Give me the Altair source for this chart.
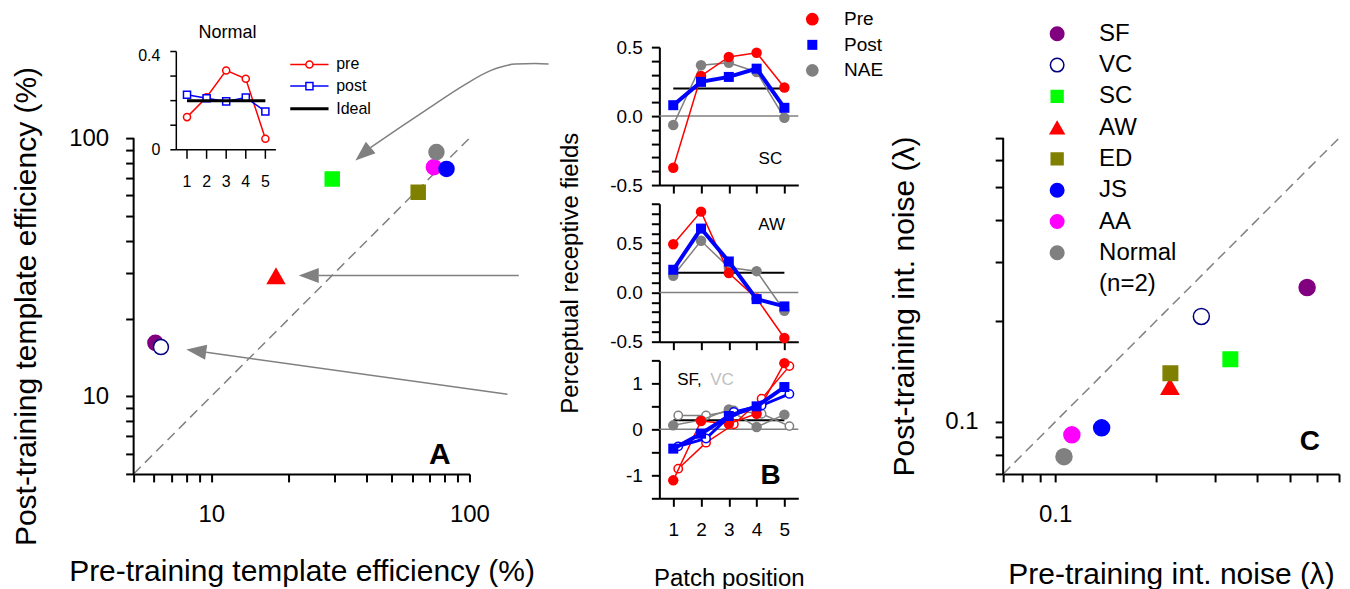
import altair as alt
import pandas as pd

FONT = "Liberation Sans"
GRAY = "#808080"
RED = "#ff0000"
BLUE = "#0000ff"

# ---------------- values ----------------
subjects   = ["SF", "VC", "SC", "AW", "ED", "JS", "AA", "Normal"]
sub_color  = ["#800080", "#000080", "#00ff00", "#ff0000", "#808000", "#0000ff", "#ff00ff", "#808080"]
sub_fill   = ["#800080", "#ffffff", "#00ff00", "#ff0000", "#808000", "#0000ff", "#ff00ff", "#808080"]
sub_shape  = ["circle", "circle", "square", "triangle-up", "square", "circle", "circle", "circle"]
draw_rank  = [0, 1, 2, 3, 4, 6, 5, 7]

eff_pre    = [6.07, 6.38, 29.4, 17.8, 63.3, 81.5, 72.8, 74.5]
eff_post   = [16.1, 15.5, 69.5, 29.2, 61.7, 76.0, 77.2, 88.3]
noise_pre  = [0.5625, 0.2724, 0.3323, 0.2196, 0.2203, 0.1375, 0.1121, 0.1062]
noise_post = [0.2513, 0.2060, 0.1537, 0.1272, 0.1396, 0.0960, 0.0915, 0.0788]

eff_ticks   = [5, 6, 7, 8, 9, 10, 20, 30, 40, 50, 60, 70, 80, 90, 100]
noise_ticks = [0.07, 0.08, 0.09, 0.1, 0.2, 0.3, 0.4, 0.5, 0.6, 0.7]

# inset of panel A (Normal observers)
inset_pos    = [1, 2, 3, 4, 5]
inset_pre    = [0.133, 0.214, 0.323, 0.289, 0.045]
inset_post   = [0.224, 0.210, 0.197, 0.213, 0.156]
inset_yticks = [0.0, 0.1, 0.2, 0.3, 0.4]
ideal_weight = 0.2

# panel B (perceptual receptive fields)
patch   = [1, 2, 3, 4, 5]
sc_pre  = [-0.374, 0.291, 0.429, 0.459, 0.207]
sc_post = [0.079, 0.248, 0.284, 0.344, 0.060]
sc_nae  = [-0.065, 0.369, 0.387, 0.320, -0.012]
aw_pre  = [0.489, 0.820, 0.196, -0.061, -0.463]
aw_post = [0.230, 0.648, 0.314, -0.068, -0.142]
aw_nae  = [0.169, 0.524, 0.253, 0.216, -0.186]
sf_pre  = [-1.11, 0.18, 0.12, 0.34, 1.44]
sf_post = [-0.42, -0.095, 0.29, 0.50, 0.92]
sf_nae  = [0.087, 0.20, 0.43, 0.05, 0.32]
vc_pre  = [-0.856, -0.29, 0.11, 0.665, 1.375]
vc_post = [-0.37, -0.20, 0.376, 0.52, 0.77]
vc_nae  = [0.30, 0.30, 0.41, 0.34, 0.07]

# annotation arrows in panel A (panel-A data coordinates)
arrow_curve_x = [41.34, 54.04, 72.53, 93.97, 120.6, 150.8, 180.3, 202.5]
arrow_curve_y = [91.88, 110.3, 134.3, 159.1, 182.7, 193.6, 194.5, 193.6]
arrow_mid_x   = [26.07, 155.3]
arrow_mid_y   = [29.37, 29.37]
arrow_low_x   = [9.55, 140.4]
arrow_low_y   = [14.80, 10.18]
head_x        = [38.70, 23.84, 8.74]
head_y        = [86.83, 29.37, 14.99]
head_angle    = [229.8, 270.0, 277.9]

# ---------------- styles ----------------
SIZE_A = {"circle": 225, "square": 196, "triangle-up": 282}
SIZE_C = {"circle": 256, "square": 210, "triangle-up": 296}
SIZE_LEG = {"circle": 182, "square": 140, "triangle-up": 190}
ARROW_HEAD = "M0,-1L0.75,1L-0.75,1Z"
AXC = dict(grid=False, labelFlush=False, labelOverlap=False)


def subj_frame(xs, ys, sizes):
    df = pd.DataFrame({"subject": subjects, "x": xs, "y": ys, "stroke": sub_color,
                       "fill": sub_fill, "shape": sub_shape, "rank": draw_rank})
    df["size"] = df["shape"].map(sizes)
    return df.sort_values("rank")


# ================= Panel A =================
A_W, A_H = 336, 427
A_TOP = 100 * 10 ** (91 / 258)
xa = alt.Scale(type="log", domain=[5, 100], nice=False)
ya = alt.Scale(type="log", domain=[5, A_TOP], nice=False)
axA_x = alt.Axis(values=eff_ticks, tickSize=8, labelFontSize=24, labelPadding=21,
                 labelExpr="datum.value == 10 ? '10' : datum.value == 100 ? '100' : ''",
                 title="Pre-training template efficiency (%)", titleFontSize=30, titlePadding=30, **AXC)
axA_y = alt.Axis(values=eff_ticks, tickSize=8, labelFontSize=24, labelPadding=17, domain=False,
                 labelExpr="datum.value == 10 ? '10' : datum.value == 100 ? '100' : ''",
                 title="Post-training template efficiency (%)", titleFontSize=30, titlePadding=27.6,
                 titleY=259, **AXC)


def XA(f):
    return alt.X(f, type="quantitative", scale=xa, axis=axA_x)


def YA(f):
    return alt.Y(f, type="quantitative", scale=ya, axis=axA_y)


dA = subj_frame(eff_pre, eff_post, SIZE_A)
a_pts = alt.Chart(dA).mark_point(filled=True, opacity=1, strokeWidth=1.5).encode(
    x=XA("x"), y=YA("y"),
    fill=alt.Fill("fill:N", scale=None), stroke=alt.Stroke("stroke:N", scale=None),
    shape=alt.Shape("shape:N", scale=None), size=alt.Size("size:Q", scale=None))

a_dash = alt.Chart(pd.DataFrame({"x": [5, 100], "y": [5, 100]})).mark_line(
    color=GRAY, strokeDash=[10, 6], strokeWidth=1.5).encode(x=XA("x"), y=YA("y"))

a_rule = alt.Chart(pd.DataFrame({"x": [5], "y": [5], "y2": [100]})).mark_rule(
    color="black", strokeWidth=2).encode(x=XA("x"), y=YA("y"), y2=alt.Y2("y2"))

arr_rows = []
for name, xs, ys in [("curve", arrow_curve_x, arrow_curve_y), ("mid", arrow_mid_x, arrow_mid_y),
                     ("low", arrow_low_x, arrow_low_y)]:
    for i, (xv, yv) in enumerate(zip(xs, ys)):
        arr_rows.append({"arrow": name, "i": i, "x": xv, "y": yv})
a_arrows = alt.Chart(pd.DataFrame(arr_rows)).mark_line(
    color=GRAY, strokeWidth=1.5, interpolate="monotone").encode(
    x=XA("x"), y=YA("y"), detail="arrow:N", order="i:Q")
a_heads = alt.Chart(pd.DataFrame({"x": head_x, "y": head_y, "a": head_angle})).mark_point(
    shape=ARROW_HEAD, filled=True, color=GRAY, size=400, opacity=1).encode(
    x=XA("x"), y=YA("y"), angle=alt.Angle("a:Q", scale=None))

a_label = alt.Chart(pd.DataFrame({"x": [76.75], "y": [5.482], "t": ["A"]})).mark_text(
    fontSize=30, fontWeight="bold", align="center", baseline="alphabetic", color="black").encode(
    x=XA("x"), y=YA("y"), text="t:N")

A_main = alt.layer(a_dash, a_arrows, a_heads, a_rule, a_pts, a_label)

# ---- inset (own scales, placed inside panel A) ----
xi = alt.Scale(domain=[-1.7245, 15.418], nice=False, zero=False)
yi = alt.Scale(domain=[-1.31937, 0.41782], nice=False, zero=False)


def XI(f):
    return alt.X(f, type="quantitative", scale=xi, axis=None)


def YI(f):
    return alt.Y(f, type="quantitative", scale=yi, axis=None)


seg = [{"x": 0.454, "y": 0.0, "x2": 0.454, "y2": 0.4}, {"x": 0.454, "y": 0.0, "x2": 5.54, "y2": 0.0}]
seg += [{"x": 0.148, "y": v, "x2": 0.454, "y2": v} for v in inset_yticks]
seg += [{"x": p, "y": 0.0, "x2": p, "y2": -0.0366} for p in inset_pos]
i_frame = alt.Chart(pd.DataFrame(seg)).mark_rule(color="black", strokeWidth=1.5).encode(
    x=XI("x"), y=YI("y"), x2=alt.X2("x2"), y2=alt.Y2("y2"))

i_layers = [i_frame]
for vals, col, shp in [(inset_pre, RED, "circle"), (inset_post, BLUE, "square")]:
    d = pd.DataFrame({"p": inset_pos, "v": vals})
    i_layers.append(alt.Chart(d).mark_line(color=col, strokeWidth=1.5).encode(x=XI("p"), y=YI("v")))
    i_layers.append(alt.Chart(d).mark_point(shape=shp, filled=True, fill="white", stroke=col,
                                            strokeWidth=1.5, size=50, opacity=1).encode(x=XI("p"), y=YI("v")))
i_layers.append(alt.Chart(pd.DataFrame({"x": [1], "x2": [5], "y": [ideal_weight]})).mark_rule(
    color="black", strokeWidth=3).encode(x=XI("x"), x2=alt.X2("x2"), y=YI("y")))
i_layers.append(alt.Chart(pd.DataFrame({"x": [-0.36, -0.36], "y": [0.3596, -0.0228], "t": ["0.4", "0"]}))
                .mark_text(fontSize=16, align="right", baseline="alphabetic", color="black")
                .encode(x=XI("x"), y=YI("y"), text="t:N"))
i_layers.append(alt.Chart(pd.DataFrame({"x": inset_pos, "y": [-0.1518] * 5, "t": [str(p) for p in inset_pos]}))
                .mark_text(fontSize=16, align="center", baseline="alphabetic", color="black")
                .encode(x=XI("x"), y=YI("y"), text="t:N"))
i_layers.append(alt.Chart(pd.DataFrame({"x": [3.071], "y": [0.4544], "t": ["Normal"]}))
                .mark_text(fontSize=18, align="center", baseline="alphabetic", color="black")
                .encode(x=XI("x"), y=YI("y"), text="t:N"))
leg_v = [0.3474, 0.2592, 0.1668]
i_layers.append(alt.Chart(pd.DataFrame({"x": [6.27] * 3, "x2": [8.224] * 3, "y": leg_v,
                                        "c": [RED, BLUE, "black"], "w": [1.5, 1.5, 3]}))
                .mark_rule().encode(x=XI("x"), x2=alt.X2("x2"), y=YI("y"),
                                    stroke=alt.Stroke("c:N", scale=None),
                                    strokeWidth=alt.StrokeWidth("w:Q", scale=None)))
for vy, col, shp in [(leg_v[0], RED, "circle"), (leg_v[1], BLUE, "square")]:
    i_layers.append(alt.Chart(pd.DataFrame({"x": [7.25], "y": [vy]})).mark_point(
        shape=shp, filled=True, fill="white", stroke=col, strokeWidth=1.5, size=50, opacity=1)
        .encode(x=XI("x"), y=YI("y")))
i_layers.append(alt.Chart(pd.DataFrame({"x": [8.617] * 3, "y": leg_v, "t": ["pre", "post", "Ideal"]}))
                .mark_text(fontSize=16, align="left", baseline="middle", color="black")
                .encode(x=XI("x"), y=YI("y"), text="t:N"))
A_inset = alt.layer(*i_layers)

A = alt.layer(A_main, A_inset).resolve_scale(x="independent", y="independent").properties(
    width=A_W, height=A_H)

# ================= Panel B =================
B_W, B_H = 139, 138
xb = alt.Scale(domain=[0.5, 5.5], nice=False, zero=False)
LAB_HALF = "datum.value == -0.5 ? '-0.5' : datum.value == 0 ? '0.0' : datum.value == 0.5 ? '0.5' : ''"
LAB_ONE = "datum.value == -1 ? '-1' : datum.value == 0 ? '0' : datum.value == 1 ? '1' : ''"


def b_panel(ydom, yticks, ylab, x_labels, y_title, series, texts, extra=None):
    yb = alt.Scale(domain=ydom, nice=False, zero=False)
    if x_labels:
        xaxis = alt.Axis(values=patch, tickSize=8, labelFontSize=19, labelPadding=14,
                         title="Patch position", titleFontSize=24, titlePadding=27, **AXC)
    else:
        xaxis = alt.Axis(values=patch, labels=False, tickSize=8, title=None, **AXC)
    if y_title:
        yaxis = alt.Axis(values=yticks, labelExpr=ylab, tickSize=8, labelFontSize=19, labelPadding=9,
                         title=y_title, titleFontSize=24, titlePadding=27, **AXC)
    else:
        yaxis = alt.Axis(values=yticks, labelExpr=ylab, tickSize=8, labelFontSize=19, labelPadding=9,
                         title=None, **AXC)

    def XB(f):
        return alt.X(f, type="quantitative", scale=xb, axis=xaxis)

    def YB(f):
        return alt.Y(f, type="quantitative", scale=yb, axis=yaxis)

    layers = [alt.Chart(pd.DataFrame({"x": [0.5], "x2": [5.5], "y": [0.0]})).mark_rule(
        color=GRAY, strokeWidth=1.5).encode(x=XB("x"), x2=alt.X2("x2"), y=YB("y"))]
    layers.append(alt.Chart(pd.DataFrame({"x": [1], "x2": [5], "y": [ideal_weight]})).mark_rule(
        color="black", strokeWidth=2).encode(x=XB("x"), x2=alt.X2("x2"), y=YB("y")))
    for vals, col, lw, shp, size, hollow, dx in series:
        d = pd.DataFrame({"p": patch, "v": vals})
        lk = dict(color=col, strokeWidth=lw)
        if dx:
            lk["xOffset"] = dx
        layers.append(alt.Chart(d).mark_line(**lk).encode(x=XB("p"), y=YB("v")))
        if hollow:
            pk = dict(shape=shp, filled=True, fill="white", stroke=col, strokeWidth=1.5, size=size, opacity=1)
        else:
            pk = dict(shape=shp, filled=True, color=col, size=size, opacity=1)
        if dx:
            pk["xOffset"] = dx
        layers.append(alt.Chart(d).mark_point(**pk).encode(x=XB("p"), y=YB("v")))
    for tx, ty, t, al, fs, fw, col, bl in texts:
        layers.append(alt.Chart(pd.DataFrame({"x": [tx], "y": [ty], "t": [t]})).mark_text(
            fontSize=fs, fontWeight=fw, align=al, baseline=bl, color=col).encode(
            x=XB("x"), y=YB("y"), text="t:N"))
    if extra is not None:
        layers += extra(XB, YB)
    return alt.layer(*layers).properties(width=B_W, height=B_H)


def b_legend(XB, YB):
    ly = [0.7025, 0.5166, 0.3315]
    d = pd.DataFrame({"x": [6.005] * 3, "y": ly, "c": [RED, BLUE, GRAY],
                      "s": ["circle", "square", "circle"], "z": [161, 100, 161]})
    pts = alt.Chart(d).mark_point(filled=True, opacity=1).encode(
        x=XB("x"), y=YB("y"), color=alt.Color("c:N", scale=None),
        shape=alt.Shape("s:N", scale=None), size=alt.Size("z:Q", scale=None))
    txt = alt.Chart(pd.DataFrame({"x": [7.147] * 3, "y": ly, "t": ["Pre", "Post", "NAE"]})).mark_text(
        fontSize=19, align="left", baseline="middle", color="black").encode(x=XB("x"), y=YB("y"), text="t:N")
    return [pts, txt]


tick01 = [round(-0.5 + 0.1 * i, 1) for i in range(11)]
tick02 = [round(-0.5 + 0.1 * i, 1) for i in range(15)]
tick03 = [-1.5, -1.0, -0.5, 0.0, 0.5, 1.0, 1.5]


def std(pre, post, nae):
    return [(nae, GRAY, 1.5, "circle", 110, False, 0),
            (pre, RED, 1.5, "circle", 110, False, 0),
            (post, BLUE, 4, "square", 100, False, 0)]


B1 = b_panel([-0.5, 0.5], tick01, LAB_HALF, False, None, std(sc_pre, sc_post, sc_nae),
             [(4.92, -0.308, "SC", "right", 17, "normal", "black", "middle")], extra=b_legend)
B2 = b_panel([-0.5, 0.9], tick02, LAB_HALF, False, "Perceptual receptive fields", std(aw_pre, aw_post, aw_nae),
             [(5.02, 0.687, "AW", "right", 17, "normal", "black", "middle")])
B3 = b_panel([-1.5, 1.5], tick03, LAB_ONE, True, None,
             [(vc_nae, GRAY, 1.5, "circle", 70, True, 5),
              (sf_nae, GRAY, 1.5, "circle", 110, False, 0),
              (vc_pre, RED, 1.5, "circle", 70, True, 5),
              (sf_pre, RED, 1.5, "circle", 110, False, 0),
              (vc_post, BLUE, 3, "circle", 70, True, 5),
              (sf_post, BLUE, 4, "square", 100, False, 0)],
             [(1.14, 1.083, "SF,", "left", 17, "normal", "black", "middle"),
              (2.33, 1.083, "VC", "left", 17, "normal", "#c0c0c0", "middle"),
              (4.5, -1.183, "B", "center", 28, "bold", "black", "alphabetic")])
B = alt.vconcat(B1, B2, B3, spacing=18.7, bounds="flush")

# ================= Panel C =================
C_W, C_H = 336, 427
C_TOP = 0.7 * 10 ** (91 / 336)
xc = alt.Scale(type="log", domain=[0.07, 0.7], nice=False)
yc = alt.Scale(type="log", domain=[0.07, C_TOP], nice=False)
axC_x = alt.Axis(values=noise_ticks, tickSize=8, labelFontSize=24, labelPadding=21,
                 labelExpr="datum.value == 0.1 ? '0.1' : ''",
                 title="Pre-training int. noise (λ)", titleFontSize=30, titlePadding=33, **AXC)
axC_y = alt.Axis(values=noise_ticks, tickSize=8, labelFontSize=24, labelPadding=17, domain=False,
                 labelExpr="datum.value == 0.1 ? '0.1' : ''",
                 title="Post-training int. noise (λ)", titleFontSize=30, titlePadding=25,
                 titleY=259, **AXC)


def XC(f):
    return alt.X(f, type="quantitative", scale=xc, axis=axC_x)


def YC(f):
    return alt.Y(f, type="quantitative", scale=yc, axis=axC_y)


dC = subj_frame(noise_pre, noise_post, SIZE_C)
c_pts = alt.Chart(dC).mark_point(filled=True, opacity=1, strokeWidth=1.5).encode(
    x=XC("x"), y=YC("y"),
    fill=alt.Fill("fill:N", scale=None), stroke=alt.Stroke("stroke:N", scale=None),
    shape=alt.Shape("shape:N", scale=None), size=alt.Size("size:Q", scale=None))
c_dash = alt.Chart(pd.DataFrame({"x": [0.07, 0.7], "y": [0.07, 0.7]})).mark_line(
    color=GRAY, strokeDash=[10, 6], strokeWidth=1.5).encode(x=XC("x"), y=YC("y"))
c_rule = alt.Chart(pd.DataFrame({"x": [0.07], "y": [0.07], "y2": [0.7]})).mark_rule(
    color="black", strokeWidth=2).encode(x=XC("x"), y=YC("y"), y2=alt.Y2("y2"))

LEG_TOP, LEG_STEP = 1.4308, 31.3 / 336
leg_y = [LEG_TOP * 10 ** (-i * LEG_STEP) for i in range(9)]
dleg = pd.DataFrame({"x": [0.10135] * 8, "y": leg_y[:8], "stroke": sub_color, "fill": sub_fill,
                     "shape": sub_shape})
dleg["size"] = dleg["shape"].map(SIZE_LEG)
c_leg_pts = alt.Chart(dleg).mark_point(filled=True, opacity=1, strokeWidth=1.5).encode(
    x=XC("x"), y=YC("y"), fill=alt.Fill("fill:N", scale=None), stroke=alt.Stroke("stroke:N", scale=None),
    shape=alt.Shape("shape:N", scale=None), size=alt.Size("size:Q", scale=None))
c_leg_txt = alt.Chart(pd.DataFrame({"x": [0.13512] * 9, "y": leg_y, "t": subjects + ["(n=2)"]})).mark_text(
    fontSize=24, align="left", baseline="middle", color="black").encode(x=XC("x"), y=YC("y"), text="t:N")
c_label = alt.Chart(pd.DataFrame({"x": [0.5728], "y": [0.08232], "t": ["C"]})).mark_text(
    fontSize=28, fontWeight="bold", align="center", baseline="alphabetic", color="black").encode(
    x=XC("x"), y=YC("y"), text="t:N")

C = alt.layer(c_dash, c_rule, c_pts, c_leg_pts, c_leg_txt, c_label).properties(width=C_W, height=C_H)

# ================= assemble =================
chart = alt.hconcat(A, B, C, spacing=6).properties(
    padding={"left": 2.7, "top": 2, "right": 0, "bottom": 0})
chart = chart.configure(font=FONT).configure_view(stroke=None).configure_axis(
    domainColor="black", domainWidth=2, tickColor="black", tickWidth=2,
    labelColor="black", titleColor="black", titleFontWeight="normal",
    labelFont=FONT, titleFont=FONT)

chart.save("out.html", embed_options={"renderer": "svg", "actions": False})
